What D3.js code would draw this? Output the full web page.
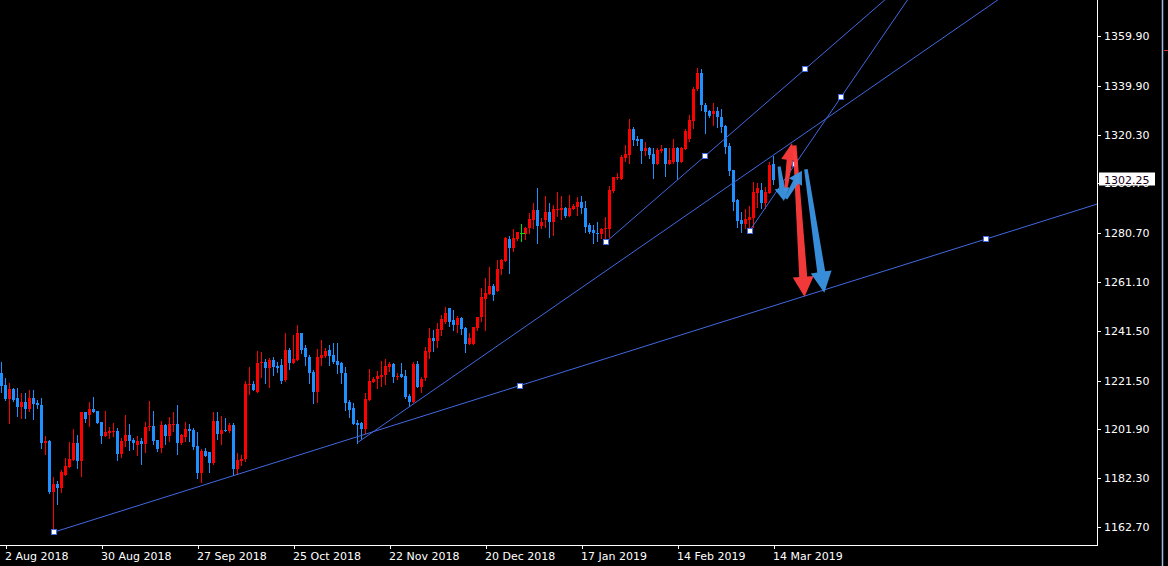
<!DOCTYPE html>
<html><head><meta charset="utf-8">
<script src="https://cdn.jsdelivr.net/npm/d3@7"></script>
<style>html,body{margin:0;padding:0;background:#000;overflow:hidden}</style>
</head><body><svg id="c" width="1168" height="566"></svg>
<script>
// ---- data (daily candles, bar index 0..193) ----
const opens = [1224.7,1219.7,1214.0,1218.1,1214.5,1210.9,1212.9,1210.1,1214.5,1212.6,
1211.7,1196.6,1197.2,1176.9,1180.0,1178.5,1183.6,1186.8,1189.5,1196.4,
1189.3,1208.9,1207.8,1210.1,1209.3,1204.9,1199.4,1200.6,1201.0,1201.3,
1192.0,1197.2,1199.6,1197.6,1195.6,1197.2,1196.2,1202.7,1203.3,1197.6,
1194.6,1203.7,1199.2,1203.5,1204.1,1196.6,1199.0,1202.1,1201.7,1195.2,
1184.5,1193.2,1192.8,1188.5,1205.3,1200.2,1201.7,1201.4,1203.7,1186.1,
1189.3,1189.9,1219.6,1220.1,1217.0,1228.4,1229.1,1226.7,1229.8,1227.5,
1227.8,1221.7,1233.8,1228.7,1229.8,1240.5,1234.5,1231.1,1225.1,1217.0,
1230.4,1231.5,1233.8,1231.8,1229.5,1228.7,1224.4,1212.8,1210.6,1204.6,
1204.3,1202.1,1213.7,1221.1,1222.1,1222.8,1223.7,1227.1,1228.2,1223.1,
1224.1,1223.3,1215.3,1213.0,1228.2,1219.1,1222.4,1233.1,1238.5,1237.4,
1241.8,1244.9,1250.8,1245.8,1243.8,1246.8,1242.8,1236.2,1236.2,1242.6,
1246.9,1254.3,1256.1,1259.5,1257.5,1266.2,1269.5,1278.2,1274.6,1278.4,
1280.8,1280.4,1282.7,1286.0,1290.0,1283.7,1286.0,1289.3,1285.3,1290.0,
1290.0,1290.7,1287.7,1290.4,1291.4,1293.2,1290.8,1284.0,1282.0,1280.9,
1280.4,1282.3,1282.4,1297.8,1302.7,1302.5,1310.9,1312.1,1322.5,1318.7,
1318.4,1313.7,1314.8,1312.5,1308.6,1313.8,1314.8,1308.6,1309.4,1314.9,
1309.4,1314.5,1318.5,1325.9,1338.5,1344.9,1332.2,1329.9,1328.6,1329.8,
1327.5,1323.7,1315.7,1306.1,1294.0,1286.0,1284.4,1286.0,1286.9,1297.0,
1298.0,1292.7,1297.0,1308.5];
const highs = [1229.1,1222.7,1220.7,1218.7,1218.7,1216.6,1216.6,1217.7,1217.7,1213.7,
1214.6,1199.2,1197.6,1182.8,1181.3,1185.6,1190.5,1197.0,1202.1,1199.6,
1208.9,1208.9,1212.9,1214.9,1209.4,1204.9,1209.3,1202.7,1204.5,1202.5,
1198.6,1207.7,1204.2,1198.6,1199.1,1198.3,1205.0,1213.3,1209.3,1197.6,
1205.3,1204.1,1206.9,1208.9,1211.7,1199.9,1204.7,1204.1,1202.6,1200.9,
1194.0,1194.4,1192.8,1208.9,1208.9,1207.1,1206.5,1204.3,1204.5,1192.3,
1191.8,1221.5,1227.1,1221.5,1233.5,1233.1,1230.0,1230.4,1231.1,1229.1,
1230.0,1240.5,1234.5,1239.8,1243.8,1240.5,1235.8,1231.8,1225.7,1234.0,
1237.8,1234.5,1235.8,1236.7,1236.7,1229.1,1227.1,1213.7,1212.4,1205.7,
1205.0,1216.6,1226.0,1223.1,1225.5,1229.4,1230.0,1229.1,1228.7,1224.4,
1228.7,1225.7,1216.1,1229.1,1229.5,1222.8,1235.1,1242.5,1241.8,1244.8,
1247.8,1250.9,1250.8,1249.9,1247.4,1247.2,1243.2,1240.5,1243.2,1247.2,
1258.8,1262.8,1267.0,1260.3,1269.9,1270.2,1279.3,1279.6,1282.3,1281.3,
1284.4,1283.3,1288.9,1293.0,1298.7,1286.7,1295.6,1292.7,1292.0,1297.4,
1295.6,1291.1,1296.0,1292.4,1295.4,1295.6,1293.8,1284.7,1284.0,1285.3,
1282.9,1287.3,1299.6,1303.4,1304.7,1312.1,1316.1,1326.4,1323.5,1319.7,
1318.4,1317.5,1315.2,1314.8,1314.8,1316.1,1314.8,1314.8,1318.5,1315.2,
1315.2,1322.5,1328.2,1339.3,1346.9,1346.5,1332.9,1330.2,1332.9,1331.2,
1330.4,1324.2,1316.8,1306.1,1294.3,1289.3,1290.3,1291.6,1301.1,1300.7,
1300.7,1299.4,1309.4,1311.8];
const lows = [1217.0,1213.7,1204.6,1213.4,1207.3,1206.6,1206.6,1209.4,1206.2,1210.6,
1194.6,1192.2,1176.5,1160.6,1172.1,1176.8,1183.6,1186.8,1189.5,1186.5,
1183.3,1205.0,1203.4,1208.8,1204.6,1196.6,1199.2,1198.6,1199.4,1189.7,
1191.0,1195.2,1193.6,1194.0,1191.6,1188.1,1193.0,1201.7,1196.2,1193.4,
1193.0,1196.2,1197.2,1201.4,1192.2,1196.2,1197.2,1197.2,1194.2,1182.2,
1180.9,1191.2,1184.9,1188.1,1198.2,1196.2,1201.1,1201.0,1183.6,1183.9,
1187.6,1189.1,1216.1,1217.7,1217.0,1223.1,1220.7,1219.1,1223.7,1225.1,
1220.4,1221.5,1226.0,1228.7,1229.8,1232.4,1227.8,1220.4,1212.4,1213.0,
1227.8,1231.1,1227.8,1228.4,1224.4,1220.4,1209.7,1207.0,1204.1,1196.6,
1197.9,1200.6,1213.7,1221.1,1218.4,1219.3,1220.0,1225.3,1221.1,1222.0,
1222.8,1214.4,1211.3,1213.0,1218.8,1217.0,1221.7,1230.4,1233.5,1235.1,
1239.8,1244.5,1243.4,1241.8,1241.2,1240.2,1233.1,1236.1,1236.1,1241.8,
1245.5,1241.8,1256.1,1253.9,1257.5,1264.2,1269.5,1264.6,1273.6,1278.0,
1277.6,1278.2,1280.6,1282.7,1276.9,1282.7,1283.3,1279.3,1280.0,1287.6,
1286.3,1287.3,1287.6,1290.4,1288.0,1288.7,1281.3,1280.6,1276.9,1277.7,
1278.9,1277.3,1279.3,1297.4,1302.3,1302.3,1309.8,1308.8,1316.1,1316.1,
1308.8,1312.1,1310.8,1303.0,1308.4,1313.4,1303.8,1308.5,1308.8,1302.5,
1309.4,1314.4,1317.7,1322.8,1338.2,1330.2,1321.1,1327.5,1324.2,1323.5,
1321.5,1312.8,1304.1,1290.0,1283.3,1281.3,1282.7,1281.3,1283.3,1291.3,
1290.7,1290.7,1296.7,1300.5];
const closes = [1219.5,1214.1,1218.1,1213.7,1211.0,1213.0,1210.2,1214.5,1212.2,1211.8,
1196.6,1197.2,1176.9,1180.0,1178.5,1184.8,1187.2,1190.0,1196.4,1189.3,
1208.9,1206.1,1210.1,1209.0,1204.6,1199.4,1200.9,1201.4,1201.4,1192.0,
1197.2,1199.6,1197.4,1196.6,1197.2,1196.2,1202.9,1203.3,1197.2,1194.0,
1203.7,1199.2,1204.1,1204.1,1196.6,1199.6,1201.9,1201.4,1194.8,1184.5,
1193.2,1191.2,1188.5,1205.3,1200.2,1201.7,1201.3,1203.7,1186.1,1189.6,
1190.1,1220.1,1220.1,1217.7,1228.6,1229.1,1226.7,1229.8,1227.1,1226.7,
1221.3,1233.8,1228.7,1230.2,1240.5,1233.8,1230.8,1224.7,1217.0,1231.1,
1231.8,1233.4,1231.5,1229.1,1227.8,1224.4,1212.6,1209.7,1204.1,1203.8,
1202.1,1214.1,1221.3,1222.1,1223.3,1223.7,1227.4,1228.2,1223.1,1223.3,
1222.8,1215.0,1213.0,1228.2,1219.1,1222.0,1233.4,1238.5,1237.4,1242.1,
1246.1,1248.5,1245.2,1243.8,1246.8,1242.2,1236.3,1238.6,1243.0,1247.0,
1255.2,1256.5,1259.5,1255.9,1266.3,1269.9,1278.9,1274.6,1278.6,1281.0,
1280.8,1282.7,1286.3,1290.0,1283.6,1285.3,1289.1,1285.3,1290.3,1290.4,
1290.7,1287.7,1290.7,1291.6,1293.2,1290.7,1283.3,1281.3,1280.6,1280.4,
1282.3,1282.9,1298.0,1303.4,1303.1,1311.4,1312.5,1322.5,1318.1,1317.9,
1313.7,1315.0,1312.1,1308.6,1314.1,1314.4,1308.6,1310.1,1314.9,1309.4,
1314.8,1321.7,1326.2,1338.6,1344.9,1332.2,1329.5,1327.8,1329.8,1327.2,
1323.5,1315.2,1305.7,1293.4,1285.6,1284.4,1286.4,1287.3,1297.2,1299.0,
1292.7,1297.2,1308.1,1302.25];

const dateTickLabels = ["2 Aug 2018","30 Aug 2018","27 Sep 2018","25 Oct 2018","22 Nov 2018","20 Dec 2018","17 Jan 2019","14 Feb 2019","14 Mar 2019"];
const dateTickBars = [1,25,49,73,97,121,145,169,193];
const priceTicks = [1359.90,1339.90,1320.30,1300.70,1280.70,1261.10,1241.50,1221.50,1201.90,1182.30,1162.70];
const lastPrice = 1302.25;

// trend lines: [bar, price] anchors, drawn as rays to the right
const trendStarts = [[13,1160.6],[89,1196.6],[151,1277.0],[187,1281.6]];
const trendEnds   = [[246.2,1278.4],[155,1269.9],[200.9,1346.6],[209.9,1335.4]];
const trendSelected = [true,false,true,true];

// arrow objects: [bar, price] tail -> tip
const arrowTails = [[196.0,1297.5],[198.3,1316.0],[194.4,1307.5],[196.1,1294.5],[201.1,1306.4]];
const arrowTips  = [[197.6,1316.8],[200.75,1255.2],[195.6,1293.6],[200.1,1305.8],[205.7,1256.8]];
const arrowKinds = ["bullSmall","bullLarge","bearSmall","bearSmall","bearLarge"];

// ---- drawing ----
const W = 1168, H = 566;
const plotR = 1097, plotB = 545;
const svg = d3.select("#c");
svg.append("rect").attr("width",W).attr("height",H).attr("fill","#000");

const x = d3.scaleLinear().domain([0,1]).range([1.5,5.5]);
const y = d3.scaleLinear().domain([1162.7,1359.9]).range([527,36]);

svg.append("defs").append("clipPath").attr("id","plot")
  .append("rect").attr("x",0).attr("y",0).attr("width",plotR).attr("height",plotB);

const g = svg.append("g").attr("clip-path","url(#plot)");

const bars = d3.range(opens.length).map(i => ({i, o:opens[i], h:highs[i], l:lows[i], c:closes[i]}));
const col = d => d.c > d.o ? "#ff0000" : (d.c < d.o ? "#1e90ff" : "#00e000");

const cg = g.append("g").attr("shape-rendering","crispEdges");
cg.selectAll("line.w").data(bars).join("line").attr("class","w")
  .attr("x1", d => x(d.i)).attr("x2", d => x(d.i))
  .attr("y1", d => Math.round(y(d.h))).attr("y2", d => Math.round(y(d.l)) + 1)
  .attr("stroke", col).attr("stroke-width",1);
cg.selectAll("rect.b").data(bars.filter(d => d.o !== d.c)).join("rect").attr("class","b")
  .attr("x", d => x(d.i) - 1.5).attr("width", 3)
  .attr("y", d => Math.round(y(Math.max(d.o,d.c))))
  .attr("height", d => Math.max(1, Math.round(y(Math.min(d.o,d.c))) - Math.round(y(Math.max(d.o,d.c)))))
  .attr("fill", col);
cg.selectAll("line.dj").data(bars.filter(d => d.o === d.c)).join("line").attr("class","dj")
  .attr("x1", d => x(d.i) - 2).attr("x2", d => x(d.i) + 3)
  .attr("y1", d => Math.round(y(d.o)) + 0.5).attr("y2", d => Math.round(y(d.o)) + 0.5)
  .attr("stroke", col);

// trend lines
const lineColor = "#4169e1";
const lg = g.append("g");
trendStarts.forEach((s, k) => {
  const e = trendEnds[k];
  const slope = (e[1]-s[1])/(e[0]-s[0]);
  const farBar = 400;
  lg.append("line")
    .attr("x1", x(s[0])).attr("y1", y(s[1]))
    .attr("x2", x(farBar)).attr("y2", y(s[1] + slope*(farBar - s[0])))
    .attr("stroke", lineColor).attr("stroke-width", 1);
});
trendStarts.forEach((s, k) => {
  if (!trendSelected[k]) return;
  const e = trendEnds[k];
  const pts = [s, e, [(s[0]+e[0])/2, (s[1]+e[1])/2]];
  pts.forEach(p => {
    lg.append("rect")
      .attr("x", Math.round(x(p[0])) - 2.5).attr("y", Math.round(y(p[1])) - 2.5)
      .attr("width", 5).attr("height", 5)
      .attr("fill", "#fff").attr("stroke", lineColor).attr("stroke-width", 1);
  });
});

// arrows (tapered shaft)
const arrowStyle = {
  bullSmall: {fill:"#ff3c3c", sw0:1.5, sw1:3, hw:8.5, hl:17},
  bullLarge: {fill:"#ff3c3c", sw0:1.8, sw1:4, hw:10.5, hl:20},
  bearSmall: {fill:"#3a95e4", sw0:1.5, sw1:2.8, hw:7.5, hl:13},
  bearLarge: {fill:"#3a95e4", sw0:1.8, sw1:4, hw:10.5, hl:21}
};
function arrowPts(x1,y1,x2,y2,st){
  const dx=x2-x1, dy=y2-y1, L=Math.hypot(dx,dy);
  const ux=dx/L, uy=dy/L, px=-uy, py=ux;
  const bx=x2-ux*st.hl, by=y2-uy*st.hl;
  return [[x1+px*st.sw0,y1+py*st.sw0],[bx+px*st.sw1,by+py*st.sw1],[bx+px*st.hw,by+py*st.hw],[x2,y2],
          [bx-px*st.hw,by-py*st.hw],[bx-px*st.sw1,by-py*st.sw1],[x1-px*st.sw0,y1-py*st.sw0]];
}
const ag = g.append("g");
arrowTails.forEach((t, k) => {
  const tip = arrowTips[k], st = arrowStyle[arrowKinds[k]];
  const pts = arrowPts(x(t[0]), y(t[1]), x(tip[0]), y(tip[1]), st);
  ag.append("polygon").attr("points", pts.map(p => p.join(",")).join(" "))
    .attr("fill", st.fill).attr("opacity", 0.95);
});

// frame
svg.append("line").attr("x1", plotR + 0.5).attr("x2", plotR + 0.5).attr("y1", 0).attr("y2", plotB + 1)
  .attr("stroke", "#fff").attr("shape-rendering","crispEdges");
svg.append("line").attr("x1", 0).attr("x2", plotR + 1).attr("y1", plotB + 0.5).attr("y2", plotB + 0.5)
  .attr("stroke", "#fff").attr("shape-rendering","crispEdges");

// price axis
const pa = svg.append("g").attr("font-family","DejaVu Sans, sans-serif").attr("font-size", 11).attr("fill","#fff");
priceTicks.forEach(p => {
  const yy = Math.round(y(p)) + 0.5;
  pa.append("line").attr("x1", plotR).attr("x2", plotR + 4).attr("y1", yy).attr("y2", yy)
    .attr("stroke","#fff").attr("shape-rendering","crispEdges");
  pa.append("text").attr("x", 1104).attr("y", yy).attr("dy","0.36em").text(p.toFixed(2));
});
// last price label (covers the nearby grid label, as in the terminal)
const ly = y(lastPrice);
pa.append("rect").attr("x", 1099).attr("y", Math.round(ly) - 7.5).attr("width", 56).attr("height", 13).attr("fill","#fff");
pa.append("text").attr("x", 1104).attr("y", ly).attr("dy","0.36em").attr("fill","#1a001a").text(lastPrice.toFixed(2));

// time axis
const ta = svg.append("g").attr("font-family","DejaVu Sans, sans-serif").attr("font-size", 11).attr("fill","#fff");
dateTickBars.forEach((b, k) => {
  const xx = Math.round(x(b)) + 0.5;
  ta.append("line").attr("x1", xx).attr("x2", xx).attr("y1", plotB).attr("y2", plotB + 4)
    .attr("stroke","#fff").attr("shape-rendering","crispEdges");
  ta.append("text").attr("x", xx - 1.5).attr("y", 560).text(dateTickLabels[k]);
});

// window edge decorations
svg.append("line").attr("x1", 1162.5).attr("x2", 1162.5).attr("y1", 0).attr("y2", H)
  .attr("stroke", "#9fbde3").attr("stroke-width", 1.5);
svg.append("line").attr("x1", 1164).attr("x2", 1168).attr("y1", 50.5).attr("y2", 50.5)
  .attr("stroke", "#d03030").attr("stroke-width", 1);
</script></body></html>
